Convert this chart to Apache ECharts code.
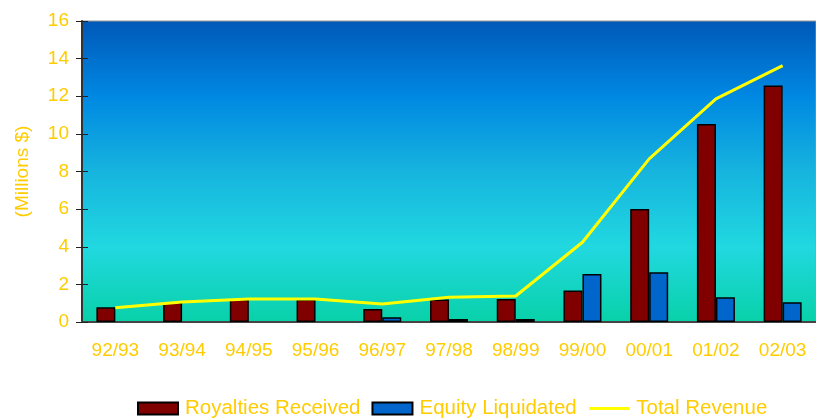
<!DOCTYPE html>
<html>
<head>
<meta charset="utf-8">
<style>
html, body { margin: 0; padding: 0; background: #fff; }
#main { width: 816px; height: 419px; }
</style>
<script src="https://cdn.jsdelivr.net/npm/echarts@6/dist/echarts.min.js"></script>
</head>
<body>
<div id="main"></div>
<script>
// fiscal years
var years = ['92/93', '93/94', '94/95', '95/96', '96/97', '97/98', '98/99', '99/00', '00/01', '01/02', '02/03'];
// millions of dollars (null = no bar drawn)
var royalties = [0.78, 1.03, 1.2, 1.2, 0.69, 1.2, 1.22, 1.67, 6.01, 10.53, 12.57];
var equity = [null, null, null, null, 0.25, 0.16, 0.16, 2.55, 2.64, 1.31, 1.05];
var totalRevenue = [0.76, 1.06, 1.22, 1.22, 0.96, 1.31, 1.38, 4.24, 8.67, 11.86, 13.63];

var gold = '#FFCC00';
var font = "'Liberation Sans', Arial, sans-serif";

var myChart = echarts.init(document.getElementById('main'));
var option = {
    animation: false,
    textStyle: { fontFamily: font },
    grid: {
        left: 82,
        top: 21,
        width: 741,
        height: 301,
        show: true,
        borderColor: '#999',
        borderWidth: 1,
        backgroundColor: {
            type: 'linear', x: 0, y: 0, x2: 0, y2: 1,
            colorStops: [
                { offset: 0, color: '#0058B8' },
                { offset: 0.25, color: '#0088E2' },
                { offset: 0.5, color: '#16B4DE' },
                { offset: 0.75, color: '#21D8E0' },
                { offset: 1, color: '#08D1A8' }
            ]
        }
    },
    legend: {
        left: 137,
        top: 398,
        padding: 0,
        itemWidth: 40,
        itemHeight: 12,
        itemGap: 11,
        textStyle: { color: gold, fontSize: 20.5, fontFamily: font, padding: [0, 0, 0, 2] },
        data: [
            { name: 'Royalties Received', icon: 'rect' },
            { name: 'Equity Liquidated', icon: 'rect' },
            { name: 'Total Revenue', itemStyle: { opacity: 0 }, lineStyle: { width: 3 } }
        ]
    },
    xAxis: [{
        type: 'category',
        data: years,
        axisLine: { lineStyle: { color: '#444', width: 2 } },
        axisTick: { length: 7, lineStyle: { color: '#333' } },
        axisLabel: { color: gold, fontSize: 19, margin: 19 }
    }, {
        type: 'category',
        data: years,
        position: 'bottom',
        axisLine: { show: false },
        axisTick: { inside: true, length: 6, lineStyle: { color: '#333' } },
        axisLabel: { show: false }
    }],
    yAxis: [{
        type: 'value',
        min: 0,
        max: 16,
        interval: 2,
        name: '(Millions $)',
        nameLocation: 'middle',
        nameGap: 50,
        nameTextStyle: { color: gold, fontSize: 19 },
        splitLine: { show: false },
        axisLine: { show: true, lineStyle: { color: '#333', width: 2 } },
        axisTick: { show: true, length: 6, lineStyle: { color: '#222' } },
        axisLabel: { color: gold, fontSize: 19, margin: 13 }
    }, {
        type: 'value',
        min: 0,
        max: 16,
        interval: 2,
        position: 'left',
        splitLine: { show: false },
        axisLine: { show: false },
        axisTick: { show: true, inside: true, length: 6, lineStyle: { color: '#222' } },
        axisLabel: { show: false }
    }],
    series: [
        {
            name: 'Royalties Received',
            type: 'bar',
            data: royalties,
            barWidth: 19,
            barGap: '0%',
            itemStyle: { color: '#800000', borderColor: '#000', borderWidth: 1.5 }
        },
        {
            name: 'Equity Liquidated',
            type: 'bar',
            data: equity,
            barWidth: 19,
            barGap: '0%',
            itemStyle: { color: '#0066CC', borderColor: '#000', borderWidth: 1.5 }
        },
        {
            name: 'Total Revenue',
            type: 'line',
            data: totalRevenue,
            showSymbol: false,
            symbol: 'none',
            lineStyle: { color: '#FFFF00', width: 3 },
            itemStyle: { color: '#FFFF00' }
        }
    ]
};
myChart.setOption(option);
</script>
</body>
</html>
